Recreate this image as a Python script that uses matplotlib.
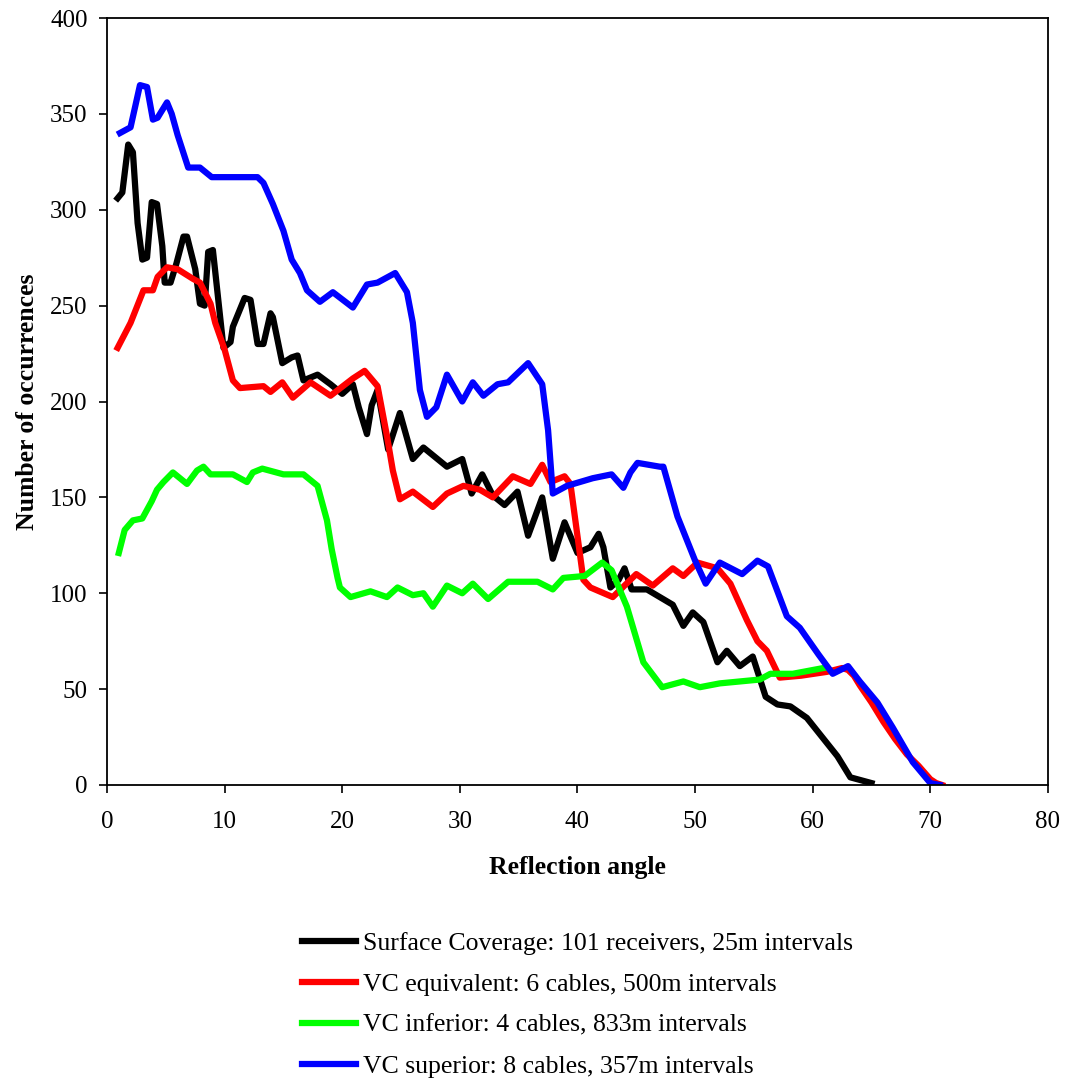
import matplotlib
matplotlib.use("Agg")
import matplotlib.pyplot as plt

plt.rcParams['font.family'] = ['Liberation Serif', 'DejaVu Serif']

# Surface coverage (black)
surf_x = [0.9, 1.3, 1.8, 2.2, 2.6, 3.0, 3.4, 3.8, 4.25, 4.7, 4.9, 5.4, 5.9, 6.5, 6.8,
          7.5, 7.9, 8.3, 8.6, 9.0, 9.9, 10.5, 10.7, 11.7, 12.2, 12.8, 13.3, 13.9, 14.1,
          14.9, 15.7, 16.2, 16.7, 17.9, 19.0, 20.0, 20.9, 21.4, 22.1, 22.5, 23.0, 23.9,
          24.9, 26.0, 26.9, 28.9, 30.2, 31.0, 31.9, 32.8, 33.8, 34.9, 35.8, 37.0, 37.9,
          38.9, 40.0, 41.1, 41.8, 42.2, 42.8, 43.5, 44.0, 44.6, 45.9, 48.1, 49.0, 49.8,
          50.7, 51.9, 52.7, 53.8, 54.9, 56.0, 57.0, 58.1, 59.5, 62.1, 63.2, 65.0]
surf_y = [306, 309, 334, 330, 293, 274, 275, 304, 303, 281, 262, 262, 272, 286, 286,
          269, 251, 250, 278, 279, 228, 231, 239, 254, 253, 230, 230, 246, 244,
          220, 223, 224, 211, 214, 209, 204, 209, 197, 183, 198, 206, 175,
          194, 170, 176, 166, 170, 152, 162, 151, 146, 153, 130, 150, 118,
          137, 121, 124, 131, 124, 103, 107, 113, 102, 102, 94, 83, 90,
          85, 64, 70, 62, 67, 46, 42, 41, 35, 15, 4, 1]

# VC equivalent (red)
equiv_x = [0.9, 2.0, 3.1, 3.9, 4.3, 5.1, 6.0, 7.3, 7.9, 8.8, 9.2, 10.0, 10.7, 11.3,
           13.3, 13.9, 14.9, 15.8, 17.3, 19.0, 20.9, 21.9, 23.0, 23.8, 24.3, 24.9,
           26.0, 27.7, 28.9, 30.3, 31.7, 32.8, 34.5, 36.0, 37.0, 37.7, 38.9, 39.4,
           40.5, 41.1, 43.0, 45.0, 46.4, 48.1, 49.0, 50.2, 51.9, 53.0, 54.4, 55.3,
           56.1, 57.2, 59.0, 61.2, 62.5, 63.0, 63.5, 64.0, 65.0, 66.0, 67.0, 68.0,
           69.0, 70.0, 70.5, 71.0]
equiv_y = [228, 241, 258, 258, 265, 270, 269, 264, 262, 251, 241, 227, 211, 207,
           208, 205, 210, 202, 210, 203, 212, 216, 208, 182, 164, 149,
           153, 145, 152, 156, 154, 150, 161, 157, 167, 158, 161, 157,
           107, 103, 98, 110, 104, 113, 109, 116, 113, 105, 86, 75,
           70, 56, 57, 59, 61, 60, 57, 52, 43, 33, 24, 16,
           10, 3, 1, 0]

# VC inferior (green)
infer_x = [1.0, 1.5, 2.2, 3.0, 3.8, 4.25, 4.8, 5.6, 6.8, 7.65, 8.2, 8.8, 10.7, 11.9,
           12.4, 13.2, 15.0, 16.7, 17.9, 18.7, 19.1, 19.6, 19.8, 20.7, 22.4, 23.8,
           24.7, 26.0, 26.9, 27.7, 28.9, 30.2, 31.1, 32.4, 34.1, 36.6, 37.9, 38.8,
           40.6, 42.1, 42.9, 44.2, 45.6, 47.2, 49.0, 50.4, 52.1, 53.8, 55.5, 56.4,
           58.3, 60.9]
infer_y = [121, 133, 138, 139, 148, 154, 158, 163, 157, 164, 166, 162, 162, 158,
           163, 165, 162, 162, 156, 138, 123, 108, 103, 98, 101, 98,
           103, 99, 100, 93, 104, 100, 105, 97, 106, 106, 102, 108,
           109, 116, 112, 93, 64, 51, 54, 51, 53, 54, 55, 58,
           58, 61]

# VC superior (blue)
super_x = [1.1, 2.0, 2.8, 3.4, 3.9, 4.3, 5.1, 5.5, 6.0, 6.9, 7.9, 8.9, 10.7, 11.9,
           12.8, 13.3, 14.1, 15.0, 15.7, 16.4, 17.0, 18.1, 19.2, 20.9, 22.1, 23.0,
           24.5, 25.5, 26.0, 26.6, 27.2, 28.0, 28.9, 30.2, 31.1, 32.0, 33.2, 34.1,
           35.8, 37.0, 37.5, 37.9, 39.1, 41.3, 42.9, 43.9, 44.5, 45.1, 47.0, 47.3,
           48.5, 50.0, 50.9, 52.1, 54.0, 55.3, 56.2, 57.8, 58.9, 60.5, 61.7, 63.0,
           64.0, 65.5, 66.8, 68.5, 70.0, 70.8]
super_y = [340, 343, 365, 364, 347, 348, 356, 350, 339, 322, 322, 317, 317, 317,
           317, 314, 303, 289, 274, 267, 258, 252, 257, 249, 261, 262,
           267, 257, 241, 206, 192, 197, 214, 200, 210, 203, 209, 210,
           220, 209, 185, 152, 156, 160, 162, 155, 163, 168, 166, 166,
           140, 117, 105, 116, 110, 117, 114, 88, 82, 68, 58, 62,
           54, 43, 30, 12, 1, 0]

labels = ['Surface Coverage: 101 receivers, 25m intervals',
          'VC equivalent: 6 cables, 500m intervals',
          'VC inferior: 4 cables, 833m intervals',
          'VC superior: 8 cables, 357m intervals']
colors = ['#000000', '#ff0000', '#00ff00', '#0000ff']

fig = plt.figure(figsize=(10.65, 10.78), dpi=100)
ax = fig.add_axes([0.1005, 0.2718, 0.8835, 0.7115])

series = [(surf_x, surf_y), (equiv_x, equiv_y), (infer_x, infer_y), (super_x, super_y)]
for (xs, ys), lab, col in zip(series, labels, colors):
    ax.plot(xs, ys, color=col, linewidth=4.5, label=lab, solid_joinstyle='round')

ax.set_xlim(0, 80)
ax.set_ylim(0, 400)
ax.set_xticks(range(0, 81, 10))
ax.set_yticks(range(0, 401, 50))
ax.tick_params(direction='out', length=6, width=1.2, labelsize=18)
ax.tick_params(axis='x', pad=13)
ax.tick_params(axis='y', pad=8)
for s in ax.spines.values():
    s.set_linewidth(1.3)

ax.set_xlabel('Reflection angle', fontsize=18.5, fontweight='bold', labelpad=16)
ax.set_ylabel('Number of occurrences', fontsize=18.5, fontweight='bold', labelpad=8)

fig.legend(loc='upper center', bbox_to_anchor=(0.542, 0.157), frameon=False,
           fontsize=18.5, handlelength=2.1, handletextpad=0.28, labelspacing=0.7)

plt.savefig('out.png', dpi=100)
